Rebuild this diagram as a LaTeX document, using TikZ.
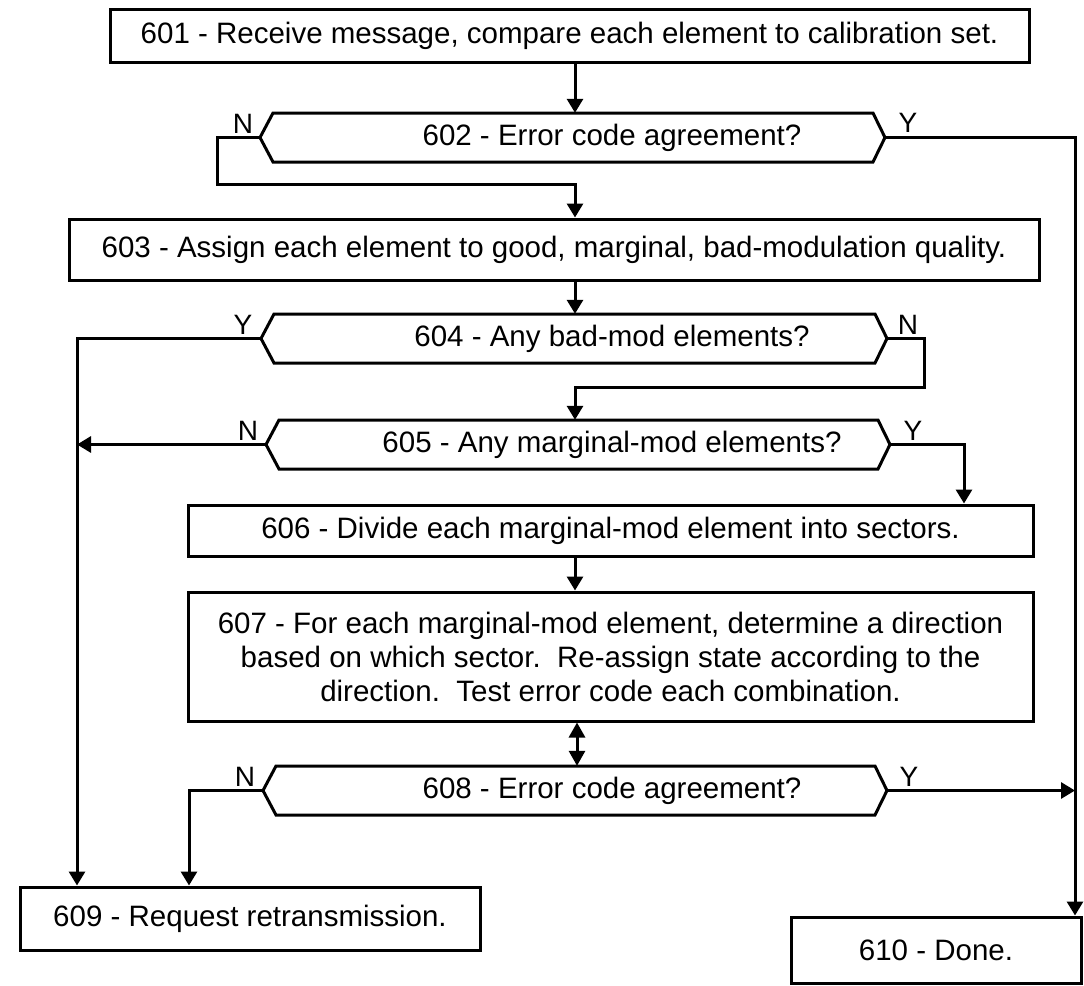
\documentclass[tikz,border=0pt]{standalone}
\usepackage{fontspec}
\setmainfont{Liberation Sans}
\usetikzlibrary{arrows.meta,calc}
\tikzset{
  every picture/.style={x=1pt,y=-1pt},
  box/.style={draw, line width=3pt, inner sep=0pt, align=center,
    font=\fontsize{29.5}{34}\selectfont},
  hexline/.style={draw, line width=3pt},
  dectext/.style={inner sep=0pt, minimum height=49pt, font=\fontsize{29.5}{34}\selectfont},
  lab/.style={inner sep=0pt, font=\fontsize{28}{32}\selectfont},
  conn/.style={line width=3pt},
  arr/.style={conn, -{Triangle[length=14pt,width=16pt]}},
  darr/.style={conn, {Triangle[length=15pt,width=16pt]}-{Triangle[length=15pt,width=16pt]}},
}
\newcommand{\mydecision}[5]{%
  \coordinate (#1L) at (#2,#4);
  \coordinate (#1R) at (#3,#4);
  \draw[hexline] (#1L) -- ({#2+13},{#4-24.5}) -- ({#3-12},{#4-24.5}) -- (#1R)
     -- ({#3-12},{#4+24.5}) -- ({#2+13},{#4+24.5}) -- cycle;
  \node[dectext] (#1) at (612,#4) {#5};
}
\begin{document}
\begin{tikzpicture}
\useasboundingbox (0,0) rectangle (1084,985);
% helper x-positions
\coordinate (cx) at (575,0);
\coordinate (dx) at (577,0);
\coordinate (lx) at (77,0);
\coordinate (nx) at (189,0);
\coordinate (rx) at (1075,0);
\coordinate (yx) at (964,0);
\coordinate (ax) at (924,0);
\coordinate (bx) at (217,0);

% boxes
\node[box, minimum width=919pt, minimum height=53pt] (b601) at (569.5,35.5)
  {601 - Receive message, compare each element to calibration set.};
\node[box, minimum width=970pt, minimum height=61pt] (b603) at (554,249.5)
  {603 - Assign each element to good, marginal, bad-modulation quality.};
\node[box, minimum width=845pt, minimum height=51pt] (b606) at (610.5,530.5)
  {606 - Divide each marginal-mod element into sectors.};
\node[box, minimum width=845pt, minimum height=129pt] (b607) at (610.5,656.5)
  {607 - For each marginal-mod element, determine a direction\\
   based on which sector.\ \ Re-assign state according to the\\
   direction.\ \ Test error code each combination.};
\node[box, minimum width=460pt, minimum height=63pt] (b609) at (250,918.5)
  {609 - Request retransmission.};
\node[box, minimum width=290pt, minimum height=66pt] (b610) at (936,950)
  {610 - Done.};

% decisions
\mydecision{d602}{260}{885}{137.5}{602 - Error code agreement?}
\mydecision{d604}{261}{887}{338.5}{604 - Any bad-mod elements?}
\mydecision{d605}{266}{890}{444.5}{605 - Any marginal-mod elements?}
\mydecision{d608}{263}{887}{790.5}{608 - Error code agreement?}

% labels
\node[lab] (l602n) at (243,124) {N};
\node[lab] (l602y) at (908,123) {Y};
\node[lab] (l604y) at (243,325) {Y};
\node[lab] (l604n) at (908,325) {N};
\node[lab] (l605n) at (248,431) {N};
\node[lab] (l605y) at (913,431) {Y};
\node[lab] (l608n) at (245,777) {N};
\node[lab] (l608y) at (909,777) {Y};

% connectors
\draw[arr] (b601.south -| cx) -- (d602.north -| cx);
\draw[arr] (d602L) -- (d602L -| bx) -- ++(0,46.5) -| (b603.north -| cx);
\draw[arr] (d602R) -| (b610.north -| rx);
\draw[arr] (b603.south -| cx) -- (d604.north -| cx);
\draw[arr] (d604L) -| (b609.north -| lx);
\draw[arr] (d604R) -- (d604R -| ax) -- ++(0,48.5) -| (d605.north -| cx);
\draw[arr] (d605L) -- (d605L -| lx);
\draw[arr] (d605R) -| (b606.north -| yx);
\draw[arr] (b606.south -| cx) -- (b607.north -| cx);
\draw[darr] (b607.south -| dx) -- (d608.north -| dx);
\draw[arr] (d608L) -| (b609.north -| nx);
\draw[arr] (d608R) -- (d608R -| rx);
\end{tikzpicture}
\end{document}
